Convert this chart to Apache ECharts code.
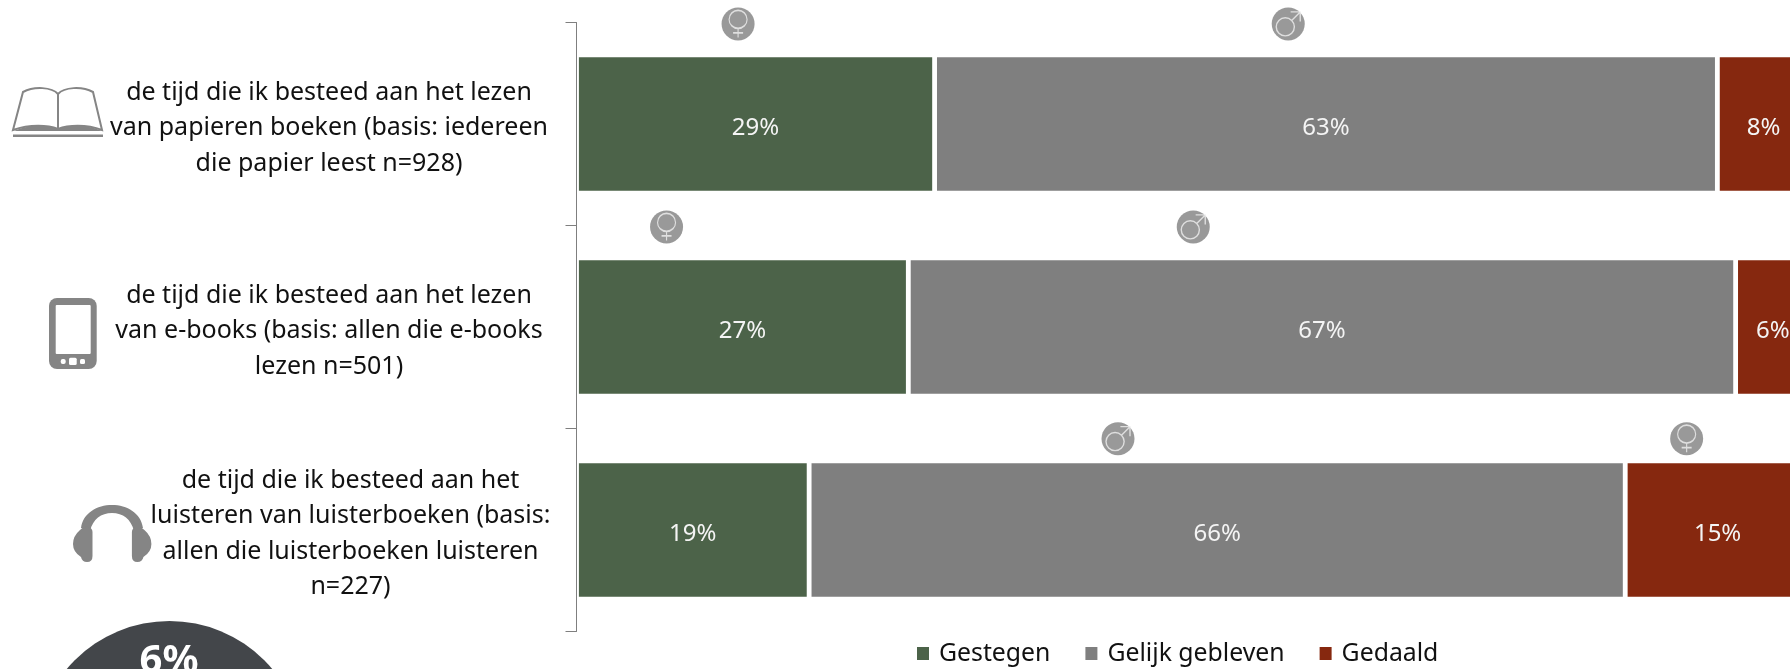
<!DOCTYPE html>
<html><head><meta charset="utf-8">
<style>html,body{margin:0;padding:0;background:#fff;overflow:hidden}#c{width:1790px;height:669px}</style>
<script src="https://cdn.jsdelivr.net/npm/echarts@6/dist/echarts.min.js"></script>
</head><body><div id="c"></div>
<script>
const categories = [
  ['de tijd die ik besteed aan het lezen','van papieren boeken (basis: iedereen','die papier leest n=928)'],
  ['de tijd die ik besteed aan het lezen','van e-books (basis: allen die e-books','lezen n=501)'],
  ['de tijd die ik besteed aan het','luisteren van luisterboeken (basis:','allen die luisterboeken luisteren','n=227)']
];
const gestegen = [29.03, 26.9, 18.86];
const gelijk = [63.46, 67.07, 66.16];
const gedaald = [7.51, 6.03, 14.98];
const seriesNames = ['Gestegen','Gelijk gebleven','Gedaald'];
const seriesColors = ['#4c6349','#7f7f7f','#86280f'];
const femaleMarks = [[13.1,0.007],[7.3,1.007],[90,2.05]];
const maleMarks = [[57.7,0.007],[50,1.007],[43.9,2.05]];
const highlight = '6%';

const FONT = 'Noto Sans';
const femalePath = 'path://M0 9A9 9 0 1 1 18 9A9 9 0 1 1 0 9ZM9 18L9 27M4 22.5L14 22.5';
const malePath = 'path://M0.5 15A8.5 8.5 0 1 1 17.5 15A8.5 8.5 0 1 1 0.5 15ZM15 9L23 1M14 1L23 1L23 10';

function barSeries(i, data){
  return {name:seriesNames[i],type:'bar',stack:'t',barWidth:138.5,data,
    itemStyle:{color:seriesColors[i],borderColor:'#fff',borderWidth:2.4},
    label:{show:true,position:'inside',offset:[0,4],color:'#f4f4f4',fontFamily:FONT,fontSize:24,
      formatter:p=>Math.round(p.value)+'%'}};
}
function disc(data){
  return {type:'scatter',xAxisIndex:0,yAxisIndex:1,data,symbol:'circle',symbolSize:33,clip:false,z:5,
    itemStyle:{color:'#7f7f7f'},silent:true};
}
function glyph(data,path,size){
  return {type:'scatter',xAxisIndex:0,yAxisIndex:1,data,symbol:path,symbolSize:size,clip:false,z:6,
    itemStyle:{color:'rgba(0,0,0,0)',borderColor:'#f0f0f0',borderWidth:1.4},silent:true};
}
const ICON='#858585';
const icons={
  bookLine:'M58 94C52 87 34 86 23 92L13 130C30 124 48 125 58 129C68 125 86 124 102 130L93 92C82 86 64 87 58 94ZM58 94L58 129',
  bookBase:'M14 131C30 124 48 125 58 129C68 125 86 124 102 131Z',
  band:'M81 528C83 513 97 505 112 505C127 505 141 513 143 528L134 531C131 519 123 513 112 513C101 513 93 519 90 531Z',
  cupL:'M92.5 532L92.5 556Q92.5 562 87 562Q82 562 81 557Q73 552 73 544Q73 536 80 530Q84 526 88 527Q92.5 528 92.5 532Z',
  cupR:'M131.9 532L131.9 556Q131.9 562 137.4 562Q142.4 562 143.4 557Q151.4 552 151.4 544Q151.4 536 144.4 530Q140.4 526 136.4 527Q131.9 528 131.9 532Z'
};
Object.keys(icons).forEach(k=>echarts.graphic.registerShape(k,echarts.graphic.extendPath(icons[k],{})));
const chart = echarts.init(document.getElementById('c'),null,{renderer:'canvas'});
chart.setOption({
  animation:false,
  backgroundColor:'#fff',
  grid:{left:576.5,top:22.5,width:1233.5,height:609,containLabel:false,outerBoundsMode:'none'},
  xAxis:{type:'value',min:0,max:100,show:false},
  yAxis:[{type:'category',inverse:true,z:10,data:categories.map((c,i)=>i),
    axisLine:{lineStyle:{color:'#7f7f7f',width:1}},
    axisTick:{show:true,length:11,lineStyle:{color:'#7f7f7f',width:1}},
    axisLabel:{margin:29.5,align:'right',interval:0,padding:[8,0,0,0],color:'#111',fontFamily:FONT,fontSize:25,lineHeight:35.5,
      formatter:(v,i)=>categories[i].map(l=>'{'+(i==2?'w2':'w1')+'|'+l+'}').join('\n'),
      rich:{w1:{width:436,align:'center',lineHeight:35.5,fontSize:25,fontFamily:FONT,color:'#111'},
            w2:{width:393,align:'center',lineHeight:35.5,fontSize:25,fontFamily:FONT,color:'#111'}}}},
    {type:'value',show:false,inverse:true,min:0,max:3}],
  legend:{left:915,top:641,padding:0,data:seriesNames,icon:'rect',itemWidth:14,itemHeight:15,itemGap:33,
    textStyle:{color:'#111',fontFamily:FONT,fontSize:24.8,padding:[0,0,0,4]}},
  series:[barSeries(0,gestegen),barSeries(1,gelijk),barSeries(2,gedaald),
    disc(femaleMarks),disc(maleMarks),glyph(femaleMarks,femalePath,[18,27]),glyph(maleMarks,malePath,[24,24])],
  graphic:[
    {type:'circle',shape:{cx:169.5,cy:755,r:134},style:{fill:'#43464a'}},
    {type:'text',style:{x:169,y:642,text:highlight,fill:'#fff',font:'bold 40px "Noto Sans"',align:'center',verticalAlign:'top'}},
    {type:'bookLine',style:{fill:'none',stroke:ICON,lineWidth:2}},
    {type:'bookBase',style:{fill:ICON}},
    {type:'rect',shape:{x:13,y:134.5,width:90,height:2.5},style:{fill:ICON}},
    {type:'rect',shape:{x:49,y:298,width:47.7,height:71,r:8},style:{fill:ICON}},
    {type:'rect',shape:{x:55.7,y:305,width:35,height:49,r:1},style:{fill:'#fff'}},
    {type:'rect',shape:{x:69,y:357.7,width:7.7,height:7.3,r:1.5},style:{fill:'#fff'}},
    {type:'rect',shape:{x:60.7,y:359,width:5,height:5,r:2},style:{fill:'#fff'}},
    {type:'rect',shape:{x:80,y:359,width:5,height:5,r:1.5},style:{fill:'#fff'}},
    {type:'band',style:{fill:ICON}},
    {type:'cupL',style:{fill:ICON}},
    {type:'cupR',style:{fill:ICON}}
  ]
});
</script></body></html>
